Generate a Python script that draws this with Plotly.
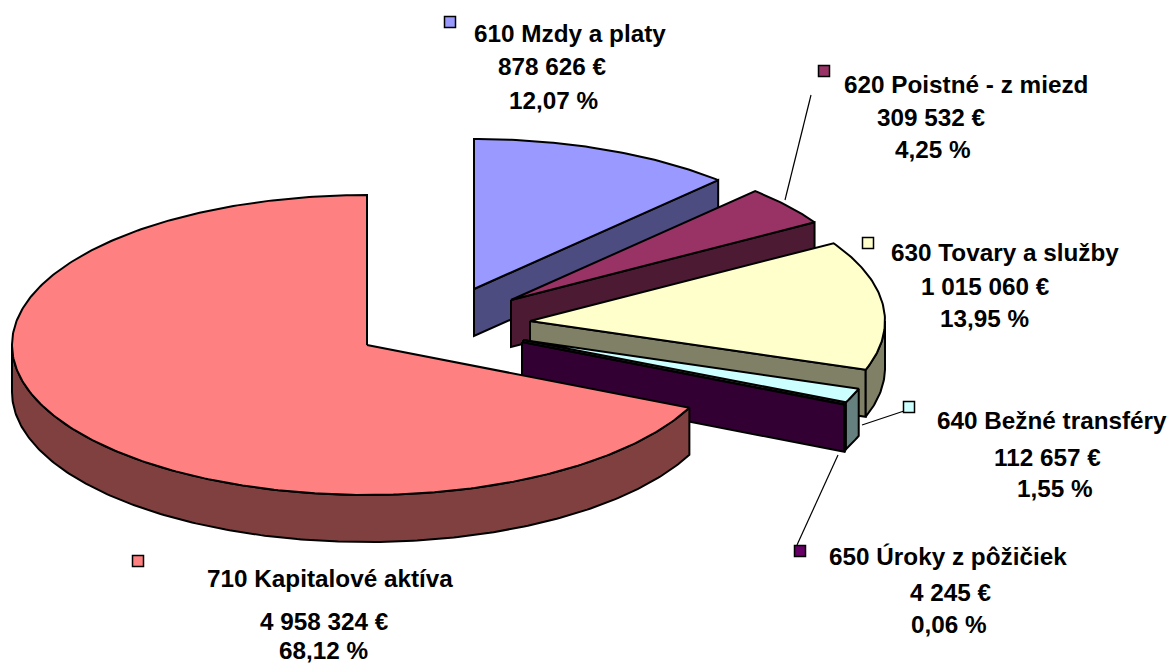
import numpy as np
import plotly.graph_objects as go

categories = ["610 Mzdy a platy", "620 Poistné - z miezd", "630 Tovary a služby",
              "640 Bežné transféry", "650 Úroky z pôžičiek", "710 Kapitalové aktíva"]
amounts = [878626, 309532, 1015060, 112657, 4245, 4958324]
amount_labels = ["878 626 €", "309 532 €", "1 015 060 €", "112 657 €", "4 245 €", "4 958 324 €"]
percent_labels = ["12,07 %", "4,25 %", "13,95 %", "1,55 %", "0,06 %", "68,12 %"]
top_colors = ["#9999FF", "#993366", "#FFFFCC", "#CCFFFF", "#660066", "#FF8080"]
wall_colors = ["#4C4C80", "#4C1A33", "#808066", "#668080", "#330033", "#804040"]

# slice apex on the canvas (exploded pie)
apex_x = [474, 511, 530, 523, 522, 367]
apex_y = [289, 300, 321, 340, 342, 345]
RX, RY, DEPTH = 355, 150, 47

# label layout: text centre x per line, y per line; key square; leader line
label_x = [[570, 552, 553], [966, 931, 933], [1005, 985, 984], [1052, 1047, 1055], [948, 951, 949], [330, 324, 323]]
label_y = [[33, 66, 100], [84, 117, 149], [252, 286, 318], [420, 457, 488], [556, 592, 624], [578, 621, 650]]
key_x = [450, 824, 868, 909, 800, 138]
key_y = [22, 71, 243, 407, 551, 561]
leader_x = [None, [785, 811], None, [862, 904], [838, 797], None]
leader_y = [None, [200, 95], None, [425, 411], [455, 545], None]

W, H = 1172, 664
fractions = np.array(amounts, dtype=float) / sum(amounts)
edges = np.concatenate([[0], np.cumsum(fractions)]) * 2 * np.pi


def rim(cx, cy, a0, a1):
    n = max(2, int(np.degrees(a1 - a0) * 1.5))
    t = np.linspace(a0, a1, n)
    return cx + RX * np.sin(t), cy - RY * np.cos(t)


fig = go.Figure()


def poly(xs, ys, color):
    fig.add_trace(go.Scatter(x=list(xs), y=list(ys), mode="lines", fill="toself", fillcolor=color,
                             line=dict(color="black", width=2), hoverinfo="skip", showlegend=False))


for i in range(len(categories)):
    a0, a1 = edges[i], edges[i + 1]
    cx, cy = apex_x[i], apex_y[i]
    # end-cut wall (faces the viewer for angles below 180 degrees)
    if np.sin(a1 % (2 * np.pi)) > 1e-6:
        ex, ey = cx + RX * np.sin(a1), cy - RY * np.cos(a1)
        poly([cx, ex, ex, cx, cx], [cy, ey, ey + DEPTH, cy + DEPTH, cy], wall_colors[i])
    # outer rim wall: only the part on the front half
    lo, hi = max(a0, np.pi / 2), min(a1, 3 * np.pi / 2)
    if hi > lo:
        rx, ry = rim(cx, cy, lo, hi)
        poly(np.r_[rx, rx[::-1], rx[0]], np.r_[ry, ry[::-1] + DEPTH, ry[0]], wall_colors[i])
    # top face
    tx, ty = rim(cx, cy, a0, a1)
    poly(np.r_[cx, tx, cx], np.r_[cy, ty, cy], top_colors[i])

for i in range(len(categories)):
    if leader_x[i]:
        fig.add_trace(go.Scatter(x=leader_x[i], y=leader_y[i], mode="lines",
                                 line=dict(color="black", width=1.2), hoverinfo="skip", showlegend=False))
    fig.add_trace(go.Scatter(x=[key_x[i]], y=[key_y[i]], mode="markers",
                             marker=dict(symbol="square", size=11, color=top_colors[i],
                                         line=dict(color="black", width=1.5)),
                             hoverinfo="skip", showlegend=False))
    lines = [categories[i], amount_labels[i], percent_labels[i]]
    for text, x, y in zip(lines, label_x[i], label_y[i]):
        fig.add_annotation(x=x, y=y, text="<b>" + text + "</b>", showarrow=False,
                           xanchor="center", yanchor="middle", borderpad=0,
                           font=dict(family="Liberation Sans", size=24.3, color="black"))

fig.update_layout(width=W, height=H, margin=dict(l=0, r=0, t=0, b=0), paper_bgcolor="white",
                  plot_bgcolor="white", showlegend=False,
                  xaxis=dict(range=[0, W], visible=False, fixedrange=True),
                  yaxis=dict(range=[H, 0], visible=False, fixedrange=True),
                  font=dict(family="Liberation Sans"))
fig.write_html("out.html", config={"displayModeBar": False},
               post_script="document.body.style.margin='0';")
